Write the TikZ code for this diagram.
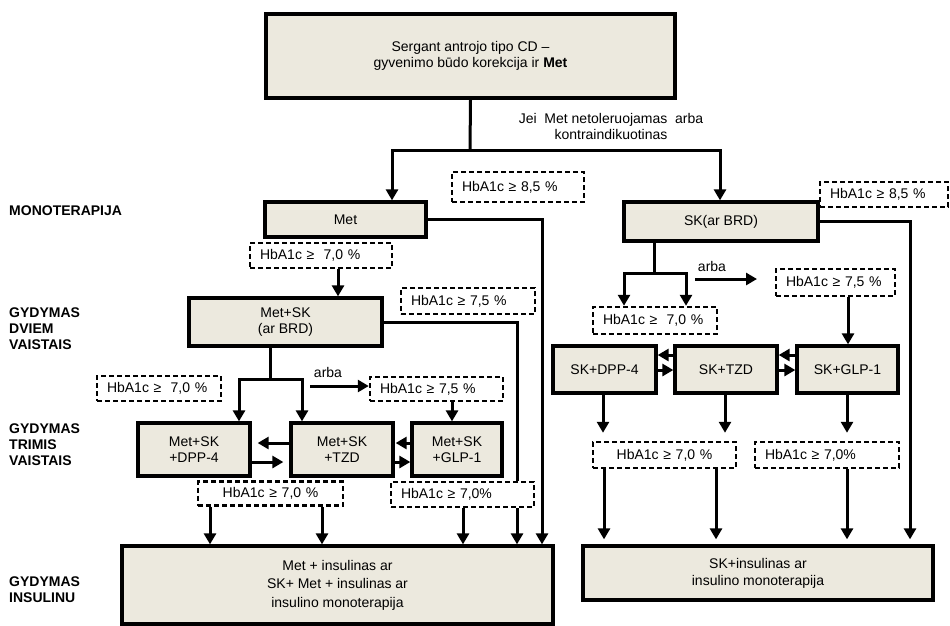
\documentclass[tikz,border=0pt]{standalone}
\usepackage{fontspec}
\setmainfont{Liberation Sans}
\usetikzlibrary{arrows.meta}
\definecolor{boxfill}{RGB}{236,233,222}
\begin{document}
\begin{tikzpicture}[x=1pt,y=-1pt,
  every node/.style={font=\fontsize{14}{16}\selectfont, inner sep=0pt},
  sbox/.style={draw, line width=3.3pt, fill=boxfill, align=center},
  dbox/.style={draw, line width=2.5pt, dash pattern=on 5pt off 3pt, fill=white, inner xsep=10pt, align=left},
  dboxc/.style={dbox, align=center},
  conn/.style={line width=3pt, -{Triangle[width=12pt,length=11pt]}},
  plain/.style={line width=3pt},
  lab/.style={anchor=west, align=left, font=\bfseries\fontsize{14}{16}\selectfont}]
\useasboundingbox (0,0) rectangle (950,625);

% solid boxes
\node[sbox, minimum width=409, minimum height=84] (top) at (470.5,56) {Sergant antrojo tipo CD –\\gyvenimo būdo korekcija ir \textbf{Met}};
\node[sbox, minimum width=161, minimum height=35] (met) at (345.5,219.5) {Met};
\node[sbox, minimum width=193, minimum height=48] (metsk) at (285.5,322) {Met+SK\\(ar BRD)};
\node[sbox, minimum width=112, minimum height=53] (dpp) at (194,449.5) {Met+SK\\+DPP-4};
\node[sbox, minimum width=102, minimum height=53] (tzd) at (342,449.5) {Met+SK\\+TZD};
\node[sbox, minimum width=90, minimum height=53] (glp) at (457,449.5) {Met+SK\\+GLP-1};
\node[sbox, minimum width=431, minimum height=78, font=\fontsize{14}{18.5}\selectfont] (insL) at (337.5,585) {Met + insulinas ar\\SK+ Met + insulinas ar\\insulino monoterapija};
\node[sbox, minimum width=194, minimum height=39] (sk) at (721,221.5) {SK(ar BRD)};
\node[sbox, minimum width=103, minimum height=47] (skdpp) at (604.5,369.5) {SK+DPP-4};
\node[sbox, minimum width=102, minimum height=47] (sktzd) at (726,369.5) {SK+TZD};
\node[sbox, minimum width=101, minimum height=47] (skglp) at (847.5,369.5) {SK+GLP-1};
\node[sbox, minimum width=350, minimum height=54, font=\fontsize{14}{17}\selectfont] (insR) at (758,573) {SK+insulinas ar\\insulino monoterapija};

% dashed boxes
\node[dbox, text width=112, minimum height=30] (d85L) at (518,187) {HbA1c ≥ 8,5 \%};
\node[dbox, text width=108, minimum height=25] (d85R) at (884,194.5) {HbA1c ≥ 8,5 \%};
\node[dbox, text width=122, minimum height=25] (d70a) at (321,255.5) {HbA1c ≥\ \ 7,0 \%};
\node[dbox, text width=114, minimum height=26] (d75a) at (468,301) {HbA1c ≥ 7,5 \%};
\node[dbox, text width=104, minimum height=25] (d70b) at (159,388.5) {HbA1c ≥\ \ 7,0 \%};
\node[dbox, text width=113, minimum height=24] (d75b) at (436.5,389) {HbA1c ≥ 7,5 \%};
\node[dboxc, text width=125, minimum height=24] (d70c) at (270.5,493.5) {HbA1c ≥ 7,0 \%};
\node[dbox, text width=123, minimum height=25] (d70d) at (462.5,494.5) {HbA1c ≥ 7,0\%};
\node[dbox, text width=104, minimum height=27] (d70e) at (655,320.5) {HbA1c ≥\ \ 7,0 \%};
\node[dbox, text width=99, minimum height=27] (d75c) at (835.5,282.5) {HbA1c ≥ 7,5 \%};
\node[dboxc, text width=123, minimum height=26] (d70f) at (664.5,455) {HbA1c ≥ 7,0 \%};
\node[dbox, text width=124, minimum height=26] (d70g) at (827,455) {HbA1c ≥ 7,0\%};

% texts
\node[align=center] (jei) at (611,126) {Jei\ \ Met netoleruojamas\ \ arba\\kontraindikuotinas};
\node (arbaL) at (328,372) {arba};
\node (arbaR) at (712,266) {arba};
\node[lab] (l1) at (9,211) {MONOTERAPIJA};
\node[lab] (l2) at (9,329) {GYDYMAS\\DVIEM\\VAISTAIS};
\node[lab] (l3) at (9,445) {GYDYMAS\\TRIMIS\\VAISTAIS};
\node[lab] (l4) at (9,590) {GYDYMAS\\INSULINU};

% helper coordinates
\coordinate (sp) at (470,150);
\coordinate (spL) at (392,150);
\coordinate (spR) at (720,150);
\coordinate (xa) at (338,0);
\coordinate (xL1) at (517,0);
\coordinate (xL2) at (542,0);
\coordinate (xm) at (270,0);
\coordinate (ys1) at (0,379);
\coordinate (xd1) at (239,0);
\coordinate (xd2) at (302,0);
\coordinate (ar0) at (310,386);
\coordinate (xg) at (452,0);
\coordinate (yu) at (0,443);
\coordinate (yl) at (0,462);
\coordinate (xb1) at (210,0);
\coordinate (xb2) at (322,0);
\coordinate (xb3) at (463,0);
\coordinate (xR) at (910,0);
\coordinate (xs0) at (654,0);
\coordinate (ys2) at (0,273);
\coordinate (xs1) at (624,0);
\coordinate (xs2) at (686,0);
\coordinate (ar1) at (695,279);
\coordinate (ar2) at (757,279);
\coordinate (xg2) at (848,0);
\coordinate (yu2) at (0,355);
\coordinate (yl2) at (0,370);
\coordinate (xs3) at (603,0);
\coordinate (xs4) at (725,0);
\coordinate (xs5) at (847,0);
\coordinate (xs6) at (604,0);
\coordinate (xs7) at (716,0);

% connectors: top
\draw[plain] (top.south) -- (sp);
\draw[conn] (sp) -- (spL) -- (spL |- met.north);
\draw[conn] (sp) -- (spR) -- (spR |- sk.north);

% left column
\draw[conn] (xa |- d70a.south) -- (xa |- metsk.north);
\draw[conn] (met.east) -- (met.east -| xL2) -- (xL2 |- insL.north);
\draw[plain] (metsk.east) -- (metsk.east -| xL1) -- (xL1 |- d70d.north);
\draw[conn] (xL1 |- d70d.south) -- (xL1 |- insL.north);
\draw[plain] (xm |- metsk.south) -- (xm |- ys1);
\draw[conn] (xm |- ys1) -- (xd1 |- ys1) -- (xd1 |- dpp.north);
\draw[conn] (xm |- ys1) -- (xd2 |- ys1) -- (xd2 |- tzd.north);
\draw[conn] (ar0) -- (ar0 -| d75b.west);
\draw[conn] (xg |- d75b.south) -- (xg |- glp.north);
\draw[conn, shorten >=6pt] (tzd.west |- yu) -- (dpp.east |- yu);
\draw[conn, shorten >=6pt] (dpp.east |- yl) -- (tzd.west |- yl);
\draw[conn, shorten >=1pt] (glp.west |- yu) -- (tzd.east |- yu);
\draw[conn] (tzd.east |- yl) -- (glp.west |- yl);
\draw[conn] (xb1 |- d70c.south) -- (xb1 |- insL.north);
\draw[conn] (xb2 |- d70c.south) -- (xb2 |- insL.north);
\draw[conn] (xb3 |- d70d.south) -- (xb3 |- insL.north);

% right column
\draw[conn, shorten >=5pt] (sk.east) -- (sk.east -| xR) -- (xR |- insR.north);
\draw[plain] (xs0 |- sk.south) -- (xs0 |- ys2);
\draw[conn] (xs0 |- ys2) -- (xs1 |- ys2) -- (xs1 |- d70e.north);
\draw[conn] (xs0 |- ys2) -- (xs2 |- ys2) -- (xs2 |- d70e.north);
\draw[conn] (ar1) -- (ar2);
\draw[conn] (xg2 |- d75c.south) -- (xg2 |- skglp.north);
\draw[conn] (sktzd.west |- yu2) -- (skdpp.east |- yu2);
\draw[conn] (skdpp.east |- yl2) -- (sktzd.west |- yl2);
\draw[conn] (skglp.west |- yu2) -- (sktzd.east |- yu2);
\draw[conn] (sktzd.east |- yl2) -- (skglp.west |- yl2);
\draw[conn, shorten >=8pt] (xs3 |- skdpp.south) -- (xs3 |- d70f.north);
\draw[conn, shorten >=8pt] (xs4 |- sktzd.south) -- (xs4 |- d70f.north);
\draw[conn, shorten >=8pt] (xs5 |- skglp.south) -- (xs5 |- d70g.north);
\draw[conn, shorten >=5pt] (xs6 |- d70f.south) -- (xs6 |- insR.north);
\draw[conn, shorten >=5pt] (xs7 |- d70f.south) -- (xs7 |- insR.north);
\draw[conn, shorten >=5pt] (xs5 |- d70g.south) -- (xs5 |- insR.north);
\end{tikzpicture}
\end{document}
